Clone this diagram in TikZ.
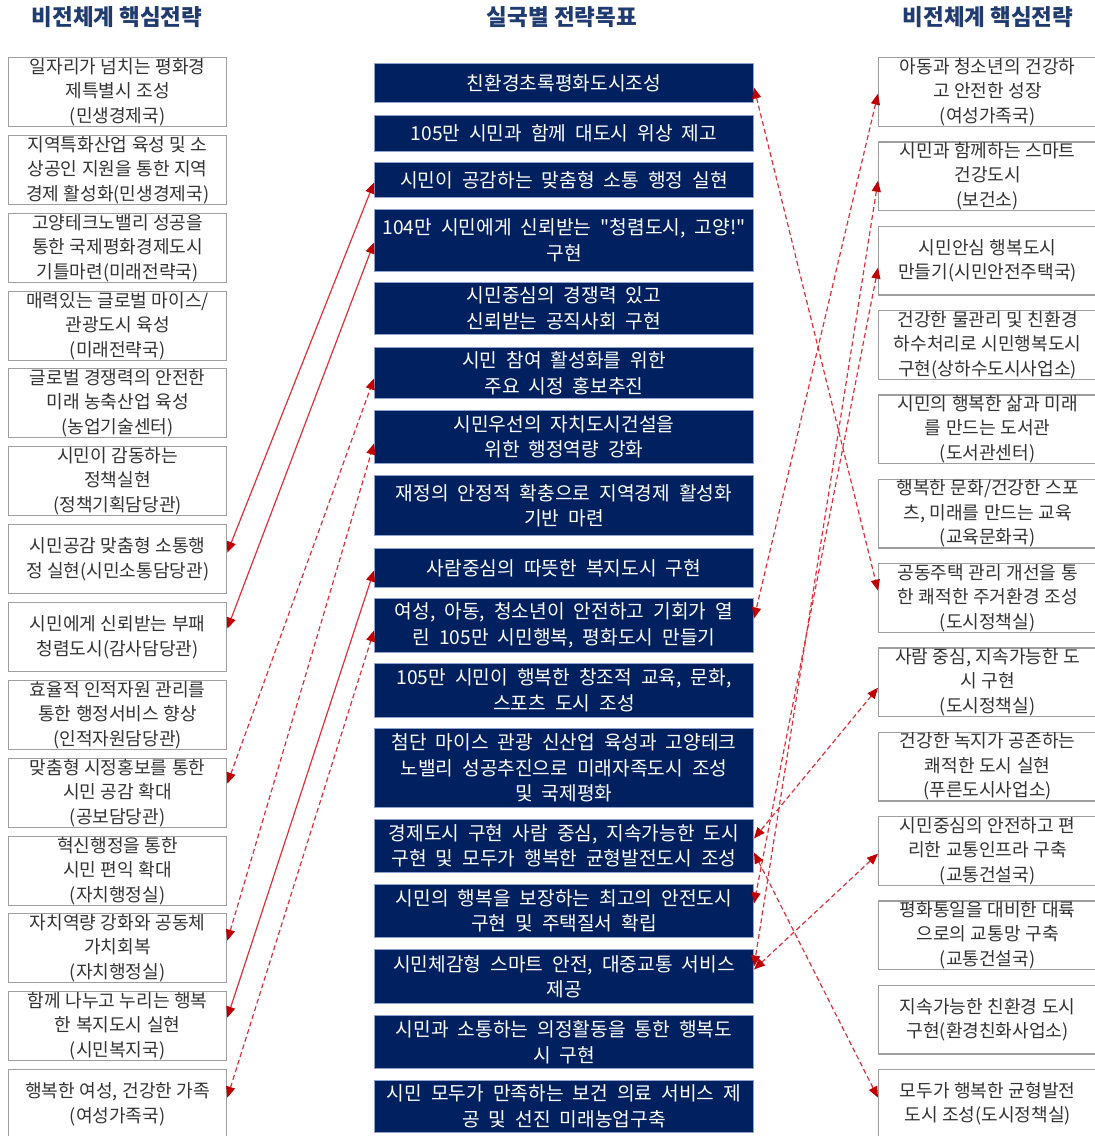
\documentclass[tikz,border=0pt]{standalone}
\usepackage{fontspec}
\usetikzlibrary{arrows.meta}
\newfontfamily\krfont{Noto Sans CJK KR}
\newcommand\mysidefont{\krfont\fontsize{18.1bp}{24.5bp}\selectfont\spaceskip=4.5bp\relax}
\newcommand\mymidfont{\krfont\fontsize{19.2bp}{25.5bp}\selectfont\spaceskip=9bp\relax}
\newcommand\mytitlefont{\krfont\bfseries\fontsize{22.5bp}{26bp}\selectfont}
\definecolor{navy}{HTML}{002060}
\definecolor{navyedge}{HTML}{8FA3CC}
\definecolor{titleblue}{HTML}{1F3B6F}
\definecolor{sidegray}{HTML}{9E9E9E}
\definecolor{sidetext}{HTML}{333333}
\definecolor{lnred}{HTML}{E0303A}
\definecolor{tipred}{HTML}{C00000}
\tikzset{
  ttl/.style={font=\mytitlefont, text=titleblue, inner sep=0pt},
  sidebox/.style={draw=sidegray, line width=1.3bp, fill=white, minimum width=218bp, minimum height=69bp,
    inner sep=0pt, align=center, anchor=north west, text=sidetext, font=\mysidefont},
  midbox/.style={draw=navyedge, line width=1bp, fill=navy, minimum width=379bp,
    inner sep=0pt, align=center, anchor=north west, text=white, font=\mymidfont},
  link/.style={draw=lnred, line width=1.2bp,
    {Triangle[length=11bp,width=9bp,color=tipred]}-{Triangle[length=11bp,width=9bp,color=tipred]}},
  dlink/.style={link, dash pattern=on 5bp off 3bp}
}
\begin{document}
\begin{tikzpicture}[x=1bp,y=-1bp]
\fill[white] (0,0) rectangle (1095,1136);
\useasboundingbox (0,0) rectangle (1095,1136);

% titles
\node[ttl] (T1) at (117,17) {비전체계 핵심전략};
\node[ttl] (T2) at (562,17) {실국별 전략목표};
\node[ttl] (T3) at (988,17) {비전체계 핵심전략};

% left boxes
\node[sidebox] (L1) at (8,57) {일자리가 넘치는 평화경\\제특별시 조성\\(민생경제국)};
\node[sidebox] (L2) at (8,135) {지역특화산업 육성 및 소\\상공인 지원을 통한 지역\\경제 활성화(민생경제국)};
\node[sidebox] (L3) at (8,213) {고양테크노밸리 성공을\\통한 국제평화경제도시\\기틀마련(미래전략국)};
\node[sidebox] (L4) at (8,291) {매력있는 글로벌 마이스/\\관광도시 육성\\(미래전략국)};
\node[sidebox] (L5) at (8,368) {글로벌 경쟁력의 안전한\\미래 농축산업 육성\\(농업기술센터)};
\node[sidebox] (L6) at (8,446) {시민이 감동하는\\정책실현\\(정책기획담당관)};
\node[sidebox] (L7) at (8,524) {시민공감 맞춤형 소통행\\정 실현(시민소통담당관)};
\node[sidebox] (L8) at (8,602) {시민에게 신뢰받는 부패\\청렴도시(감사담당관)};
\node[sidebox] (L9) at (8,680) {효율적 인적자원 관리를\\통한 행정서비스 향상\\(인적자원담당관)};
\node[sidebox] (L10) at (8,758) {맞춤형 시정홍보를 통한\\시민 공감 확대\\(공보담당관)};
\node[sidebox] (L11) at (8,836) {혁신행정을 통한\\시민 편익 확대\\(자치행정실)};
\node[sidebox] (L12) at (8,913) {자치역량 강화와 공동체\\가치회복\\(자치행정실)};
\node[sidebox] (L13) at (8,991) {함께 나누고 누리는 행복\\한 복지도시 실현\\(시민복지국)};
\node[sidebox] (L14) at (8,1069) {행복한 여성, 건강한 가족\\(여성가족국)};

% middle boxes
\node[midbox, minimum height=39bp] (M1) at (374,63) {친환경초록평화도시조성};
\node[midbox, minimum height=36bp] (M2) at (374,115) {105만 시민과 함께 대도시 위상 제고};
\node[midbox, minimum height=35bp] (M3) at (374,162) {시민이 공감하는 맞춤형 소통 행정 실현};
\node[midbox, minimum height=62bp] (M4) at (374,209) {104만 시민에게 신뢰받는 "청렴도시, 고양!"\\구현};
\node[midbox, minimum height=52bp] (M5) at (374,282) {시민중심의 경쟁력 있고\\신뢰받는 공직사회 구현};
\node[midbox, minimum height=51bp] (M6) at (374,347) {시민 참여 활성화를 위한\\주요 시정 홍보추진};
\node[midbox, minimum height=53bp] (M7) at (374,410) {시민우선의 자치도시건설을\\위한 행정역량 강화};
\node[midbox, minimum height=60bp] (M8) at (374,475) {재정의 안정적 확충으로 지역경제 활성화\\기반 마련};
\node[midbox, minimum height=39bp] (M9) at (374,548) {사람중심의 따뜻한 복지도시 구현};
\node[midbox, minimum height=54bp] (M10) at (374,598) {여성, 아동, 청소년이 안전하고 기회가 열\\린 105만 시민행복, 평화도시 만들기};
\node[midbox, minimum height=54bp] (M11) at (374,663) {105만 시민이 행복한 창조적 교육, 문화,\\스포츠 도시 조성};
\node[midbox, minimum height=79bp] (M12) at (374,728) {첨단 마이스 관광 신산업 육성과 고양테크\\노밸리 성공추진으로 미래자족도시 조성\\및 국제평화};
\node[midbox, minimum height=53bp] (M13) at (374,819) {경제도시 구현 사람 중심, 지속가능한 도시\\구현 및 모두가 행복한 균형발전도시 조성};
\node[midbox, minimum height=53bp] (M14) at (374,884) {시민의 행복을 보장하는 최고의 안전도시\\구현 및 주택질서 확립};
\node[midbox, minimum height=54bp] (M15) at (374,949) {시민체감형 스마트 안전, 대중교통 서비스\\제공};
\node[midbox, minimum height=53bp] (M16) at (374,1015) {시민과 소통하는 의정활동을 통한 행복도\\시 구현};
\node[midbox, minimum height=52bp] (M17) at (374,1080) {시민 모두가 만족하는 보건 의료 서비스 제\\공 및 선진 미래농업구축};

% right boxes
\node[sidebox, minimum height=68.5bp] (R1) at (878,57) {아동과 청소년의 건강하\\고 안전한 성장\\(여성가족국)};
\node[sidebox, minimum height=68.5bp] (R2) at (878,141.3) {시민과 함께하는 스마트\\건강도시\\(보건소)};
\node[sidebox, minimum height=68.5bp] (R3) at (878,225.7) {시민안심 행복도시\\만들기(시민안전주택국)};
\node[sidebox, minimum height=68.5bp] (R4) at (878,310) {건강한 물관리 및 친환경\\하수처리로 시민행복도시\\구현(상하수도시사업소)};
\node[sidebox, minimum height=68.5bp] (R5) at (878,394.3) {시민의 행복한 삶과 미래\\를 만드는 도서관\\(도서관센터)};
\node[sidebox, minimum height=68.5bp] (R6) at (878,478.7) {행복한 문화/건강한 스포\\츠, 미래를 만드는 교육\\(교육문화국)};
\node[sidebox, minimum height=68.5bp] (R7) at (878,563) {공동주택 관리 개선을 통\\한 쾌적한 주거환경 조성\\(도시정책실)};
\node[sidebox, minimum height=68.5bp] (R8) at (878,647.3) {사람 중심, 지속가능한 도\\시 구현\\(도시정책실)};
\node[sidebox, minimum height=68.5bp] (R9) at (878,731.7) {건강한 녹지가 공존하는\\쾌적한 도시 실현\\(푸른도시사업소)};
\node[sidebox, minimum height=68.5bp] (R10) at (878,816) {시민중심의 안전하고 편\\리한 교통인프라 구축\\(교통건설국)};
\node[sidebox, minimum height=68.5bp] (R11) at (878,900.3) {평화통일을 대비한 대륙\\으로의 교통망 구축\\(교통건설국)};
\node[sidebox, minimum height=68.5bp] (R12) at (878,984.7) {지속가능한 친환경 도시\\구현(환경친화사업소)};
\node[sidebox, minimum height=68.5bp] (R13) at (878,1069) {모두가 행복한 균형발전\\도시 조성(도시정책실)};

% left connectors
\draw[link]  ([yshift=6.5bp]L7.east)  -- ([yshift=-2.5bp]M3.west);
\draw[link]  ([yshift=8.5bp]L8.east)  -- ([yshift=-2bp]M4.west);
\draw[dlink] ([yshift=9.5bp]L10.east) -- ([yshift=-5.5bp]M6.west);
\draw[dlink] ([yshift=7.5bp]L12.east) -- ([yshift=-6.5bp]M7.west);
\draw[link]  ([yshift=8.5bp]L13.east) -- ([yshift=-2.5bp]M9.west);
\draw[dlink] ([yshift=6.5bp]L14.east) -- ([yshift=-5bp]M10.west);

% right connectors
\draw[dlink] ([yshift=-4.5bp]M1.east) -- ([yshift=7.25bp]R7.west);
\draw[dlink] ([yshift=-1.75bp]R1.west) -- ([yshift=7bp]M10.east);
\draw[dlink] ([yshift=-4.5bp]R2.west) -- ([yshift=10bp]M15.east);
\draw[dlink] ([yshift=-7bp]R3.west) -- ([yshift=7.5bp]M14.east);
\draw[dlink] ([yshift=-5.5bp]R8.west) -- ([yshift=7.5bp]M13.east);
\draw[dlink] ([yshift=-2.75bp]R10.west) -- ([yshift=7bp]M15.east);
\draw[dlink] ([yshift=-6.5bp]M13.east) -- ([yshift=6.25bp]R13.west);
\end{tikzpicture}
\end{document}
